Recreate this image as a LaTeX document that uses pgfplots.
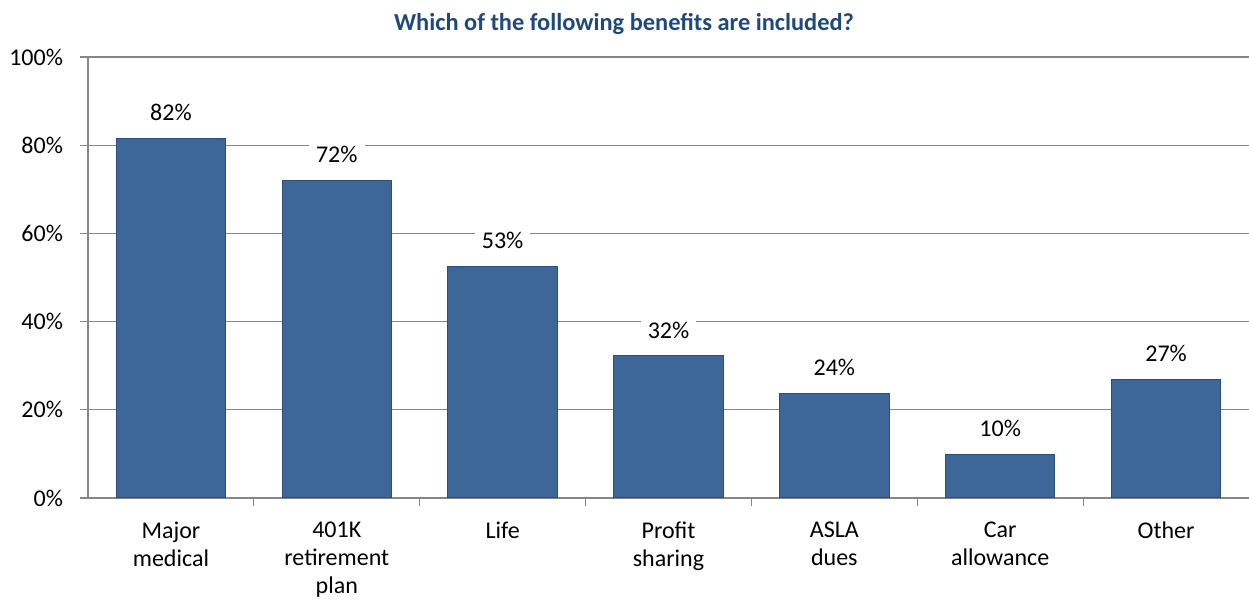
\documentclass[border=0pt]{standalone}
\usepackage{fontspec}
\setmainfont{Carlito}
\usepackage{pgfplots}
\pgfplotsset{compat=1.18}
\definecolor{barblue}{HTML}{3D6699}
\definecolor{baredge}{HTML}{2C4E7A}
\definecolor{titleblue}{HTML}{1F497D}
\definecolor{gridgray}{HTML}{868686}
\begin{document}
\begin{tikzpicture}
\begin{axis}[
  name=ax,
  scale only axis,
  width=580.5pt, height=220.5pt,
  ybar, bar width=0.66,
  xmin=-0.5, xmax=6.5, ymin=0, ymax=100,
  axis x line*=bottom, axis y line*=left,
  axis line style={gridgray, line width=0.6pt},
  ymajorgrids, grid style={gridgray, line width=0.6pt},
  ytick={0,20,...,100},
  yticklabel={\pgfmathprintnumber{\tick}\%},
  /pgf/number format/assume math mode=true,
  ytick style={gridgray, line width=0.6pt},
  tick align=outside,
  ytick pos=left,
  major tick length=4pt,
  xtick={0,...,6},
  xtick style={draw=none},
  xticklabels={{Major\\medical},{401K\\retirement\\plan},{Life},{Profit\\sharing},{ASLA\\dues},{Car\\allowance},{Other}},
  extra x ticks={0.5,1.5,...,5.5},
  extra x tick labels={},
  extra x tick style={xtick style={draw=gridgray, line width=0.6pt}, grid=none},
  tick label style={font=\fontsize{12}{14}\selectfont, text=black},
  y tick label style={xshift=-5pt},
  x tick label style={align=center, yshift=-4.5pt},
  title={Which of the following benefits are included?},
  title style={at={(0.4617,1)}, anchor=base, yshift=7pt,
    font=\fontsize{12.2}{15}\selectfont\bfseries, text=titleblue},
  nodes near coords={\pgfmathprintnumber[fixed,precision=0]{\pgfplotspointmeta}\%},
  nodes near coords style={anchor=center, yshift=13pt, fill=white,
    inner xsep=3.5pt, inner ysep=1pt, font=\fontsize{12}{14}\selectfont, text=black},
]
\addplot[fill=barblue, draw=baredge, line width=0.5pt] coordinates {
  (0,81.6) (1,72.1) (2,52.6) (3,32.2) (4,23.8) (5,9.8) (6,26.8)};
\end{axis}
\pgfresetboundingbox
\path[use as bounding box] ([xshift=-44pt,yshift=-52.5pt]ax.south west) rectangle ([yshift=28.5pt]ax.north east);
\end{tikzpicture}
\end{document}
